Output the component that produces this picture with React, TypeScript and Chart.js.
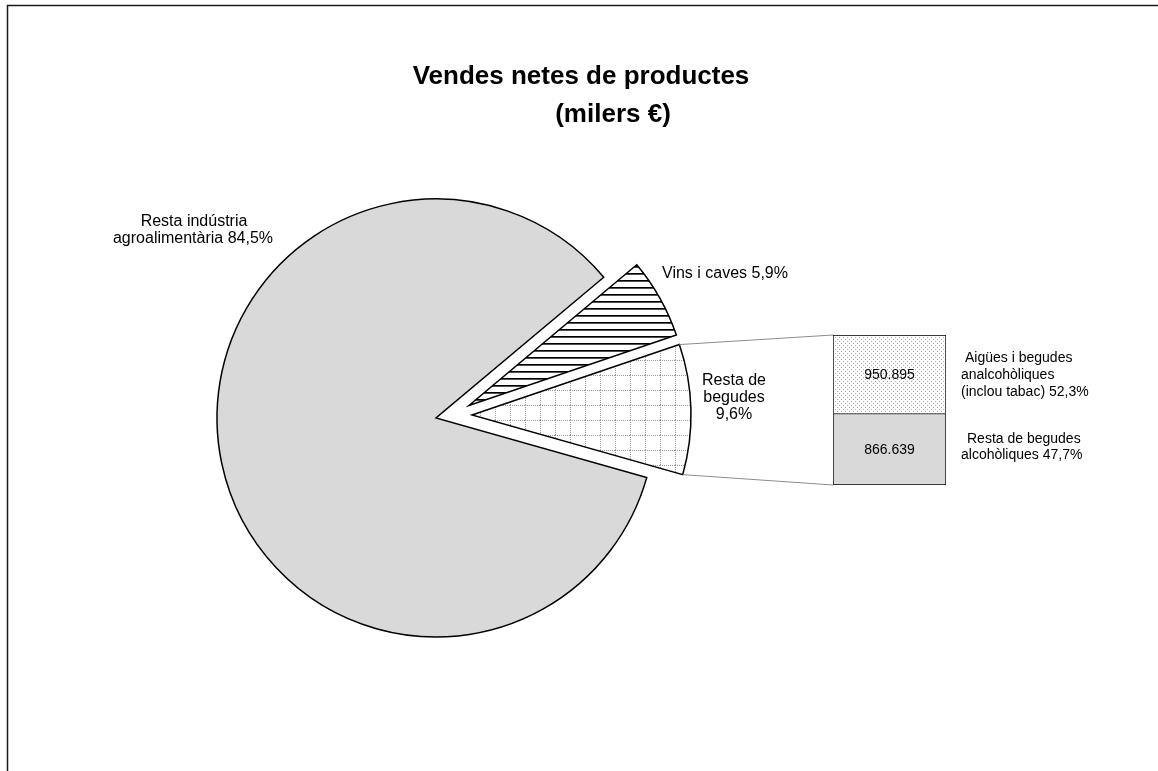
import React, { useEffect, useRef } from 'react';
import { Chart, registerables } from 'chart.js';
Chart.register(...registerables);

// ---- data ----
const pieCategories = ['Vins i caves', 'Resta de begudes', 'Resta indústria agroalimentària'];
const pieShares = [5.9, 9.6, 84.5];
const barCategories = ['Resta de begudes'];
const subCategories = ['Resta de begudes alcohòliques', 'Aigües i begudes analcohòliques (inclou tabac)'];
const subValues = [866639, 950895];
const subShares = [47.7, 52.3];
const titleLines = ['Vendes netes de productes', '(milers €)'];

// ---- layout / style ----
const W = 1158, H = 771;
const FONT = '"Liberation Sans", Arial, Helvetica, sans-serif';
const PIE_CX = 436, PIE_CY = 418, PIE_R = 219, START_DEG = -40;
const EXPLODE: number[][] = [[33, -12.5], [36, -3], [0, 0]];
const BAR = { left: 833, top: 335, width: 113, height: 150 };

const fmtPct = (v: number) => v.toFixed(1).replace('.', ',') + '%';
const fmtThousands = (v: number) => String(v).replace(/\B(?=(\d{3})+(?!\d))/g, '.');

function makePattern(w: number, h: number, draw: (g: CanvasRenderingContext2D) => void) {
  const c = document.createElement('canvas');
  c.width = w; c.height = h;
  const g = c.getContext('2d')!;
  g.fillStyle = '#ffffff';
  g.fillRect(0, 0, w, h);
  draw(g);
  return g.createPattern(c, 'repeat')!;
}

export default function App() {
  const pieRef = useRef<HTMLCanvasElement>(null);
  const barRef = useRef<HTMLCanvasElement>(null);

  useEffect(() => {
    const stripes = makePattern(8, 7, (g) => {
      g.fillStyle = '#000'; g.fillRect(0, 0, 8, 1);
      g.fillStyle = '#505050'; g.fillRect(0, 1, 8, 1);
    });
    const grid = makePattern(15, 15, (g) => {
      g.fillStyle = '#9a9a9a';
      for (let i = 0; i < 15; i += 2) { g.fillRect(0, i, 1, 1); g.fillRect(i, 0, 1, 1); }
    });
    const dots = makePattern(4, 4, (g) => {
      g.fillStyle = '#a8a8a8';
      g.fillRect(0, 0, 1, 1); g.fillRect(2, 2, 1, 1);
    });

    const explodePlugin = {
      id: 'explode',
      afterDatasetUpdate(chart: any, args: any) {
        args.meta.data.forEach((el: any, i: number) => {
          const o = EXPLODE[i] || [0, 0];
          el.x += o[0];
          el.y += o[1];
        });
      },
    };

    const decorPlugin = {
      id: 'decor',
      afterDraw(chart: any) {
        const ctx: CanvasRenderingContext2D = chart.ctx;
        ctx.save();
        // frame
        ctx.strokeStyle = '#1a1a1a';
        ctx.lineWidth = 1.5;
        ctx.beginPath();
        ctx.moveTo(7.5, H); ctx.lineTo(7.5, 5.5); ctx.lineTo(W, 5.5);
        ctx.stroke();
        // title
        ctx.fillStyle = '#000';
        ctx.font = `bold 26px ${FONT}`;
        ctx.textAlign = 'center';
        ctx.textBaseline = 'alphabetic';
        ctx.fillText(titleLines[0], 581, 84);
        ctx.fillText(titleLines[1], 613, 122);
        // connector lines
        const el: any = chart.getDatasetMeta(0).data[1];
        const r = el.outerRadius;
        ctx.strokeStyle = '#8c8c8c';
        ctx.lineWidth = 1;
        ctx.beginPath();
        ctx.moveTo(el.x + r * Math.cos(el.startAngle), el.y + r * Math.sin(el.startAngle));
        ctx.lineTo(BAR.left, BAR.top);
        ctx.moveTo(el.x + r * Math.cos(el.endAngle), el.y + r * Math.sin(el.endAngle));
        ctx.lineTo(BAR.left, BAR.top + BAR.height);
        ctx.stroke();
        // pie labels
        ctx.fillStyle = '#000';
        ctx.font = `16px ${FONT}`;
        ctx.textAlign = 'center';
        ctx.fillText('Resta indústria', 194, 226);
        ctx.fillText('agroalimentària ' + fmtPct(pieShares[2]), 193, 243);
        ctx.textAlign = 'left';
        ctx.fillText(pieCategories[0] + ' ' + fmtPct(pieShares[0]), 662, 278);
        ctx.textAlign = 'center';
        ctx.fillText('Resta de', 734, 385);
        ctx.fillText('begudes', 734, 402);
        ctx.fillText(fmtPct(pieShares[1]), 734, 419);
        // bar side labels
        ctx.font = `14px ${FONT}`;
        ctx.textAlign = 'left';
        ctx.fillText('Aigües i begudes', 965, 362);
        ctx.fillText('analcohòliques', 961, 379);
        ctx.fillText('(inclou tabac) ' + fmtPct(subShares[1]), 961, 396);
        ctx.fillText('Resta de begudes', 967, 443);
        ctx.fillText('alcohòliques ' + fmtPct(subShares[0]), 961, 459);
        ctx.restore();
      },
    };

    const pie = new Chart(pieRef.current!, {
      type: 'pie',
      data: {
        labels: pieCategories,
        datasets: [{
          data: pieShares,
          backgroundColor: [stripes, grid, '#d9d9d9'] as any,
          borderColor: '#000',
          borderWidth: 1.5,
          borderJoinStyle: 'miter',
        } as any],
      },
      options: {
        animation: false,
        responsive: false,
        events: [],
        rotation: START_DEG + 90,
        radius: PIE_R,
        layout: { padding: { left: 0, right: W - 2 * PIE_CX, top: 2 * PIE_CY - H, bottom: 0 } },
        plugins: { legend: { display: false }, tooltip: { enabled: false }, title: { display: false } },
      } as any,
      plugins: [explodePlugin, decorPlugin],
    });

    const total = subValues.reduce((a, b) => a + b, 0);
    const barLabelPlugin = {
      id: 'barLabels',
      afterDatasetsDraw(chart: any) {
        const ctx: CanvasRenderingContext2D = chart.ctx;
        ctx.save();
        ctx.fillStyle = '#000';
        ctx.font = `14px ${FONT}`;
        ctx.textAlign = 'center';
        ctx.textBaseline = 'middle';
        chart.data.datasets.forEach((ds: any, i: number) => {
          const el = chart.getDatasetMeta(i).data[0];
          const c = el.getCenterPoint();
          ctx.fillText(fmtThousands(ds.data[0]), c.x, c.y + 1);
        });
        ctx.restore();
      },
    };

    const bar = new Chart(barRef.current!, {
      type: 'bar',
      data: {
        labels: barCategories,
        datasets: [
          { label: subCategories[0], data: [subValues[0]], backgroundColor: '#d9d9d9', borderColor: '#000', borderWidth: 1, borderSkipped: false },
          { label: subCategories[1], data: [subValues[1]], backgroundColor: dots as any, borderColor: '#000', borderWidth: 1, borderSkipped: 'start' },
        ] as any,
      },
      options: {
        animation: false,
        responsive: false,
        events: [],
        layout: { padding: 0 },
        datasets: { bar: { barPercentage: 1, categoryPercentage: 1 } },
        scales: {
          x: { stacked: true, display: false },
          y: { stacked: true, display: false, min: 0, max: total },
        },
        plugins: { legend: { display: false }, tooltip: { enabled: false } },
      } as any,
      plugins: [barLabelPlugin],
    });

    return () => { pie.destroy(); bar.destroy(); };
  }, []);

  return (
    <div style={{ position: 'absolute', left: 0, top: 0, width: W, height: H, background: '#fff' }}>
      <canvas ref={pieRef} width={W} height={H} style={{ position: 'absolute', left: 0, top: 0, width: W, height: H }} />
      <canvas ref={barRef} width={BAR.width} height={BAR.height}
        style={{ position: 'absolute', left: BAR.left, top: BAR.top, width: BAR.width, height: BAR.height }} />
    </div>
  );
}
